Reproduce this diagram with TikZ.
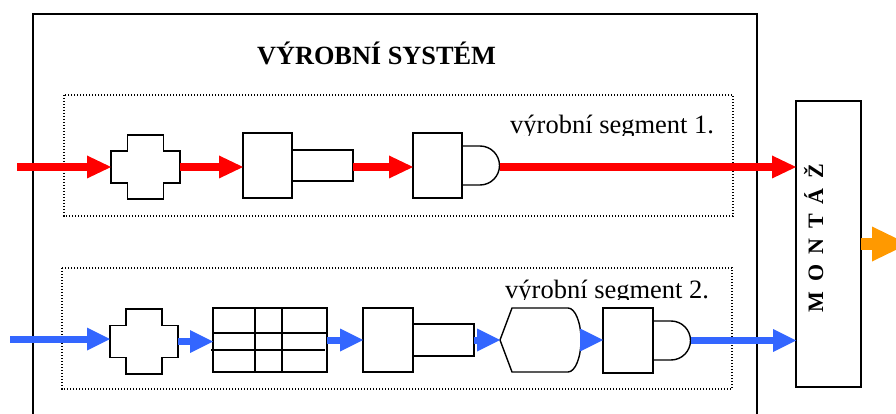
\documentclass[tikz,border=0pt]{standalone}
\usepackage{fontspec}
\setmainfont{Liberation Serif}
\usetikzlibrary{arrows.meta,calc}
\definecolor{arrblue}{RGB}{51,102,255}
\definecolor{arrorange}{RGB}{255,153,0}
\definecolor{arrred}{RGB}{255,0,0}
\begin{document}
\begin{tikzpicture}[x=1pt,y=-1pt,
  shapeline/.style={draw=black,line width=1.4pt,line join=miter},
  mach/.style={shapeline,inner sep=0pt,outer sep=0pt},
  ghost/.style={draw=none,inner sep=0pt,outer sep=0pt},
  redarr/.style={draw=arrred,line width=8pt,-{Triangle[length=24pt,width=23pt,line width=0pt,fill=arrred]}},
  bluearr/.style={draw=arrblue,line width=7pt,-{Triangle[length=23pt,width=23pt,line width=0pt,fill=arrblue]}},
  orarr/.style={draw=arrorange,line width=12pt,-{Triangle[length=36pt,width=35pt,line width=0pt,fill=arrorange]}},
  segbox/.style={draw=black,line width=1.2pt,dash pattern=on 1.2pt off 1.8pt},
  segtext/.style={font=\fontsize{26.5}{26.5}\selectfont,anchor=base west,inner sep=0pt},
]
\useasboundingbox (0,0) rectangle (896,414);
\clip (0,0) rectangle (896,414);

% outer frame
\draw[line width=2pt] (33,14) rectangle (757,440);
\node[font=\bfseries\fontsize{26.3}{26.3}\selectfont,anchor=base,inner sep=0pt] (title) at (376.5,65) {VÝROBNÍ SYSTÉM};

% segment boxes
\draw[segbox] (64,95) rectangle (733,216);
\draw[segbox] (62,268) rectangle (732,389);

\begin{scope}
\clip (480,100) rectangle (730,135.5);
\node[segtext] (lab1) at (510,134) {výrobní segment 1.};
\end{scope}
\begin{scope}
\clip (480,270) rectangle (730,299.5);
\node[segtext] (lab2) at (505,298) {výrobní segment 2.};
\end{scope}

% MONTAZ
\node[draw,line width=1.6pt,minimum width=65pt,minimum height=286pt,inner sep=0pt,outer sep=0pt] (mon) at (828.5,244) {};
\node[rotate=90,anchor=base,font=\bfseries\fontsize{22}{22}\selectfont,inner sep=0pt] (montxt) at (823,238)
  {M\hspace{10pt}O\hspace{10pt}N\hspace{10pt}T\hspace{10pt}Á\hspace{10pt}Ž};

% ---------- row 1 ----------
\node[ghost,minimum width=69pt,minimum height=64pt] (x1) at (145.5,167) {};
\draw[shapeline] ($(x1.center)+(-34.5,-16)$) -- ++(16.5,0) -- ++(0,-16) -- ++(36,0) -- ++(0,16) -- ++(16.5,0)
  -- ++(0,32) -- ++(-16.5,0) -- ++(0,16) -- ++(-36,0) -- ++(0,-16) -- ++(-16.5,0) -- cycle;

\node[mach,minimum width=49pt,minimum height=65pt] (s2) at (267.5,165.5) {};
\node[mach,minimum width=61pt,minimum height=31pt,anchor=west] (r2) at (s2.east) {};

\node[mach,minimum width=49pt,minimum height=65pt] (s3) at (437.5,165.5) {};
\draw[shapeline] ($(s3.east)+(0,-19.5)$) -- ++(18,0) arc[start angle=-90,end angle=90,radius=19.5] -- ++(-18,0);
\coordinate (d3) at ($(s3.east)+(37.5,0)$);

\coordinate (in1) at (17,167);
\draw[redarr] (in1) -- (in1 -| x1.west);
\draw[redarr] (x1.east) -- (x1.east -| s2.west);
\draw[redarr] (r2.east |- in1) -- (s3.west |- in1);
\draw[redarr] (d3 |- in1) -- (mon.west |- in1);

% ---------- row 2 ----------
\node[ghost,minimum width=68pt,minimum height=65pt] (x2) at (144,341.5) {};
\draw[shapeline] ($(x2.center)+(-34,-16)$) -- ++(16,0) -- ++(0,-16.5) -- ++(36,0) -- ++(0,16.5) -- ++(16,0)
  -- ++(0,32) -- ++(-16,0) -- ++(0,16.5) -- ++(-36,0) -- ++(0,-16.5) -- ++(-16,0) -- cycle;

\node[mach,minimum width=114pt,minimum height=64pt] (g) at (270,340) {};
\draw[shapeline] (255,308) -- (255,372);
\draw[shapeline] (282,308) -- (282,372);
\draw[shapeline] (213,333) -- (327,333);
\draw[shapeline] (211,350) -- (325,350);

\node[mach,minimum width=50pt,minimum height=64pt] (s4) at (388,340) {};
\node[mach,minimum width=61pt,minimum height=32pt,anchor=west] (r4) at (s4.east) {};

\node[ghost,minimum width=81pt,minimum height=64pt] (h) at (540.5,340) {};
\draw[shapeline] (h.west) -- (512,308) -- (568,308) arc[start angle=-90,end angle=90,x radius=13,y radius=32] -- (512,372) -- cycle;

\node[mach,minimum width=50pt,minimum height=65pt] (s5) at (628,340.5) {};
\draw[shapeline] ($(s5.east)+(0,-19.5)$) -- ++(18,0) arc[start angle=-90,end angle=90,radius=19.5] -- ++(-18,0);
\coordinate (d5) at ($(s5.east)+(37.5,0)$);

\coordinate (in2) at (10,339);
\draw[bluearr] (in2) -- (in2 -| x2.west);
\draw[bluearr] (x2.east) -- (x2.east -| g.west);
\draw[bluearr] (g.east) -- (g.east -| s4.west);
\draw[bluearr] (r4.east) -- (r4.east -| h.west);
\draw[bluearr] (h.east) -- (h.east -| s5.west);
\draw[bluearr] (d5) -- (d5 -| mon.west);

% output
\coordinate (out) at (908,244);
\draw[orarr] (mon.east) -- (out);
\end{tikzpicture}
\end{document}
